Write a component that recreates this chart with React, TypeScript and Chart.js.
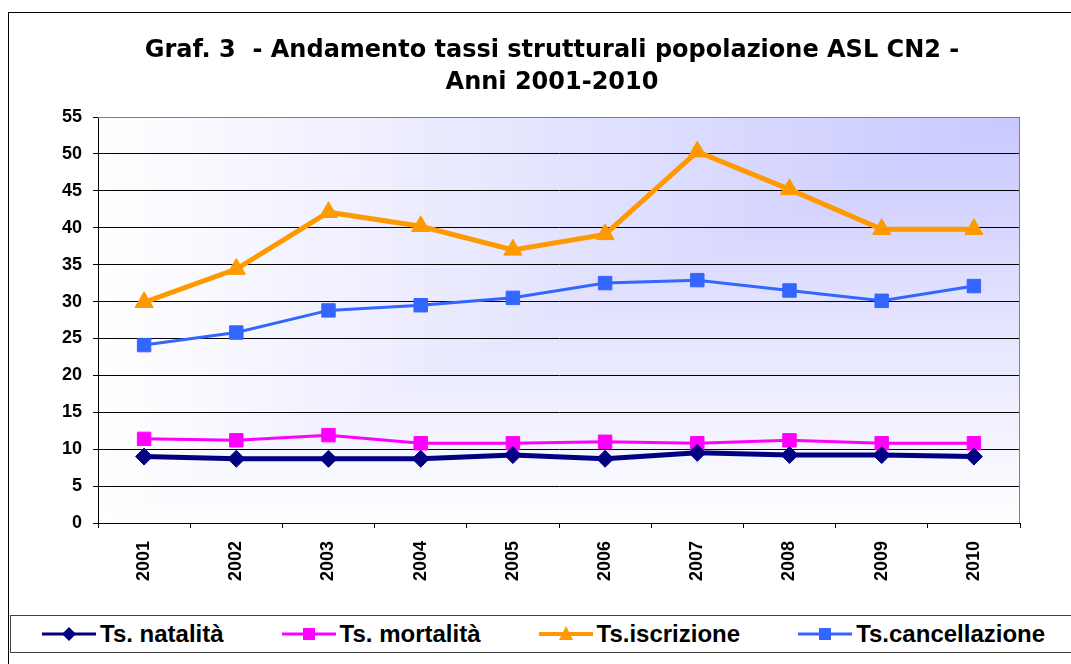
import React, { useEffect, useRef } from 'react';
import { Chart, registerables } from 'chart.js';

Chart.register(...registerables);

// ---- Data ----
const years = ['2001', '2002', '2003', '2004', '2005', '2006', '2007', '2008', '2009', '2010'];
const natalita = [9.0, 8.7, 8.7, 8.7, 9.2, 8.7, 9.5, 9.2, 9.2, 9.0];
const mortalita = [11.4, 11.2, 11.9, 10.8, 10.8, 11.0, 10.8, 11.2, 10.8, 10.8];
const iscrizione = [29.9, 34.4, 42.1, 40.2, 37.0, 39.1, 50.3, 45.2, 39.8, 39.8];
const cancellazione = [24.1, 25.8, 28.8, 29.5, 30.5, 32.5, 32.9, 31.5, 30.1, 32.1];

const yMin = 0;
const yMax = 55;
const yStep = 5;

const titleLines = ['Graf. 3  - Andamento tassi strutturali popolazione ASL CN2 -', 'Anni 2001-2010'];
const seriesNames = ['Ts. natalità', 'Ts. mortalità', 'Ts.iscrizione', 'Ts.cancellazione'];

// ---- Styles ----
const seriesColors = ['#000080', '#FF00FF', '#FF9900', '#3366FF'];
const seriesLineWidths = [5, 3, 5, 3];
const seriesPointStyles = ['rectRot', 'rect', 'triangle', 'rect'];
const seriesPointRadii = [8.5, 9.5, 10.5, 9.5];
const legendKinds = ['diamond', 'square', 'triangle', 'square'];
const legendLineWidths = [3, 3, 4, 3];

const plotBg = {
  id: 'plotBg',
  beforeDraw(chart: any) {
    const { ctx, chartArea: a } = chart;
    const w = Math.round(a.right - a.left);
    const h = Math.round(a.bottom - a.top);
    const off = document.createElement('canvas');
    off.width = w;
    off.height = h;
    const octx = off.getContext('2d')!;
    const img = octx.createImageData(w, h);
    for (let y = 0; y < h; y++) {
      const yn = 1 - y / (h - 1);
      for (let x = 0; x < w; x++) {
        const xn = x / (w - 1);
        const t = Math.min(xn, yn);
        const i = (y * w + x) * 4;
        img.data[i] = 255 - 55 * t;
        img.data[i + 1] = 255 - 55 * t;
        img.data[i + 2] = 255;
        img.data[i + 3] = 255;
      }
    }
    octx.putImageData(img, 0, 0);
    ctx.drawImage(off, a.left, a.top);
  },
  beforeDatasetsDraw(chart: any) {
    const { ctx, chartArea: a } = chart;
    ctx.save();
    ctx.strokeStyle = '#808080';
    ctx.lineWidth = 1;
    ctx.beginPath();
    ctx.moveTo(a.left, a.top + 0.5);
    ctx.lineTo(a.right - 0.5, a.top + 0.5);
    ctx.lineTo(a.right - 0.5, a.bottom);
    ctx.stroke();
    ctx.restore();
  },
};

function LegendIcon({ kind, color, lw }: { kind: string; color: string; lw: number }) {
  return (
    <svg width={54} height={24} style={{ display: 'block', flex: '0 0 auto' }}>
      <line x1={0} y1={12} x2={54} y2={12} stroke={color} strokeWidth={lw} />
      {kind === 'diamond' && <polygon points="27,5 34,12 27,19 20,12" fill={color} />}
      {kind === 'square' && <rect x={21} y={6} width={12} height={12} fill={color} />}
      {kind === 'triangle' && <polygon points="27,4 34,18 20,18" fill={color} />}
    </svg>
  );
}

export default function App() {
  const canvasRef = useRef<HTMLCanvasElement | null>(null);

  useEffect(() => {
    if (!canvasRef.current) return;
    const seriesData = [natalita, mortalita, iscrizione, cancellazione];
    const chart = new Chart(canvasRef.current, {
      type: 'line',
      data: {
        labels: years,
        datasets: seriesData.map((d, i) => ({
          label: seriesNames[i],
          data: d,
          yAxisID: 'y',
          borderColor: seriesColors[i],
          backgroundColor: seriesColors[i],
          borderWidth: seriesLineWidths[i],
          pointStyle: seriesPointStyles[i] as any,
          pointRadius: seriesPointRadii[i],
          pointBorderWidth: 1,
          pointBorderColor: seriesColors[i],
          pointBackgroundColor: seriesColors[i],
          tension: 0,
          fill: false,
        })),
      },
      options: {
        responsive: false,
        animation: false,
        devicePixelRatio: 1,
        events: [],
        layout: { padding: { left: 33, right: 0, top: 12, bottom: 0 } },
        plugins: {
          legend: { display: false },
          tooltip: { enabled: false },
          title: {
            display: true,
            text: titleLines,
            color: '#000',
            font: { family: 'DejaVu Sans', weight: 'bold', size: 24, lineHeight: 32 / 24 },
            padding: { top: 23, bottom: 18 },
          },
        },
        scales: {
          x: {
            type: 'category',
            offset: true,
            afterFit: (s: any) => {
              s.height = 141;
            },
            grid: {
              display: true,
              offset: true,
              drawOnChartArea: false,
              drawTicks: true,
              tickLength: 5,
              color: '#000',
            },
            border: { display: true, color: '#000', width: 1 },
            ticks: {
              minRotation: 90,
              maxRotation: 90,
              autoSkip: false,
              padding: 13,
              color: '#000',
              font: { family: 'Liberation Sans', weight: 'bold', size: 18 },
            },
          },
          y: {
            position: 'left',
            min: yMin,
            max: yMax,
            afterFit: (s: any) => {
              s.width = 65;
            },
            grid: {
              color: '#000',
              lineWidth: 1,
              drawTicks: true,
              tickLength: 5,
            },
            border: { display: true, color: '#000', width: 1 },
            ticks: {
              stepSize: yStep,
              padding: 11,
              color: '#000',
              font: { family: 'Liberation Sans', weight: 'bold', size: 18 },
            },
          },
          spacer: {
            type: 'linear',
            position: 'right',
            display: true,
            afterFit: (s: any) => {
              s.width = 51;
            },
            grid: { display: false, drawTicks: false },
            border: { display: false },
            ticks: { display: false },
          },
        },
      },
      plugins: [plotBg],
    });
    return () => chart.destroy();
  }, []);

  return (
    <div
      style={{
        position: 'absolute',
        left: 0,
        top: 0,
        width: 1071,
        height: 664,
        overflow: 'hidden',
        background: '#fff',
      }}
    >
      <div
        style={{
          position: 'absolute',
          left: 8,
          top: 12,
          width: 1200,
          height: 800,
          border: '1px solid #000',
          boxSizing: 'border-box',
        }}
      />
      <canvas ref={canvasRef} width={1071} height={664} style={{ position: 'absolute', left: 0, top: 0 }} />
      <div
        style={{
          position: 'absolute',
          left: 10,
          top: 615,
          width: 1200,
          height: 38,
          boxSizing: 'border-box',
          border: '1px solid #404040',
          background: '#fff',
          display: 'flex',
          alignItems: 'center',
          paddingLeft: 31,
          fontFamily: "'Liberation Sans', Arial, sans-serif",
          fontWeight: 'bold',
          fontSize: 24,
          color: '#000',
          whiteSpace: 'nowrap',
        }}
      >
        {seriesNames.map((name, i) => (
          <div key={name} style={{ display: 'flex', alignItems: 'center', marginRight: 58 }}>
            <LegendIcon kind={legendKinds[i]} color={seriesColors[i]} lw={legendLineWidths[i]} />
            <span style={{ marginLeft: 4 }}>{name}</span>
          </div>
        ))}
      </div>
    </div>
  );
}
